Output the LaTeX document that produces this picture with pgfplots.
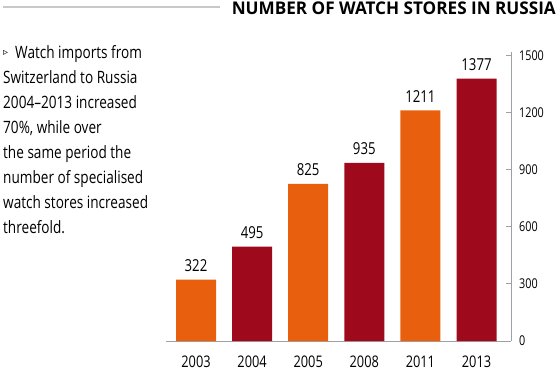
\documentclass[border=0pt]{standalone}
\usepackage{pgfplots}
\pgfplotsset{compat=1.18}
\usepackage{fontspec}
\setmainfont{Open Sans}[FakeStretch=0.8]
\newfontfamily\symfont{DejaVu Sans}
\definecolor{barorange}{HTML}{E8600E}
\definecolor{barred}{HTML}{9E0A1B}
\definecolor{axgray}{HTML}{A0A0A0}
\definecolor{topgray}{HTML}{C8C8C8}
\begin{document}
\begin{tikzpicture}[x=1bp,y=1bp]
\useasboundingbox (0,0) rectangle (560,374);
\draw[topgray, line width=1.6bp] (3,366.7) -- (220,366.7);
\node[anchor=base east, inner sep=0pt] at (556,360) {\resizebox{324bp}{\height}{\fontsize{17.5bp}{20bp}\selectfont\bfseries NUMBER OF WATCH STORES IN RUSSIA}};
\begin{scope}[every node/.style={anchor=base west, inner sep=0pt, font=\fontsize{17bp}{25bp}\selectfont}]
\node at (3,319) {{\symfont\fontsize{10bp}{10bp}\selectfont ▹}};
\node at (15,316) {Watch imports from};
\node at (3,291) {Switzerland to Russia};
\node at (3,266) {2004–2013 increased};
\node at (3,241) {70\%, while over};
\node at (3,216) {the same period the};
\node at (3,191) {number of specialised};
\node at (3,166) {watch stores increased};
\node at (3,141) {threefold.};
\end{scope}
\begin{axis}[
 at={(166bp,33bp)}, anchor=south west, scale only axis,
 width=345bp, height=289bp,
 xmin=-0.535, xmax=5.615, ymin=0, ymax=1517,
 axis x line*=bottom, axis y line*=right,
 axis line style={-, draw=axgray, line width=1bp},
 xtick={0,...,5}, xticklabels={2003,2004,2005,2008,2011,2013},
 xtick style={draw=none},
 ytick={0,300,...,1500}, ytick style={draw=axgray, line width=0.8bp},
 tick align=inside, major tick length=5bp,
 /pgf/number format/assume math mode=true,
 /pgf/number format/1000 sep={},
 yticklabel style={anchor=west, inner sep=0pt, xshift=8bp, font=\fontsize{13.5bp}{15bp}\selectfont},
 xticklabel style={anchor=north, inner sep=0pt, yshift=-10bp, font=\fontsize{16bp}{18bp}\selectfont},
 ybar, bar width=40bp,
 nodes near coords,
 nodes near coords style={anchor=south, inner sep=0pt, yshift=8bp, font=\fontsize{16.5bp}{18bp}\selectfont, black},
 clip=false
]
\addplot[fill=barorange, draw=none, bar shift=0pt] coordinates {(0,322) (2,825) (4,1211)};
\addplot[fill=barred, draw=none, bar shift=0pt] coordinates {(1,495) (3,935) (5,1377)};
\end{axis}
\end{tikzpicture}
\end{document}
